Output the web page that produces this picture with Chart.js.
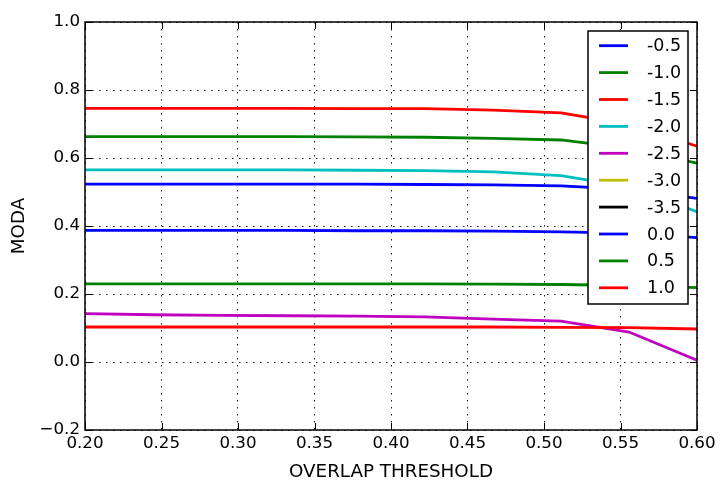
<!DOCTYPE html>
<html>
<head>
<meta charset="utf-8">
<script src="https://cdn.jsdelivr.net/npm/chart.js@4.4.1/dist/chart.umd.min.js"></script>
<style>
  html, body { margin: 0; padding: 0; background: #fff; }
</style>
</head>
<body>
<canvas id="chart" width="722" height="481"></canvas>
<script>
// overlap thresholds (x)
const thresholds = [0.2, 0.2444, 0.2889, 0.3333, 0.3778, 0.4222, 0.4667, 0.5111, 0.5556, 0.6];

const seriesLabels = ['-0.5', '-1.0', '-1.5', '-2.0', '-2.5', '-3.0', '-3.5', '0.0', '0.5', '1.0'];
const seriesColors = ['#0000ff', '#008000', '#ff0000', '#00bfbf', '#bf00bf', '#bfbf00', '#000000', '#0000ff', '#008000', '#ff0000'];

// MODA values
const modaM05 = [0.523, 0.523, 0.523, 0.523, 0.523, 0.522, 0.521, 0.518, 0.508, 0.481];
const modaM10 = [0.663, 0.663, 0.663, 0.663, 0.662, 0.661, 0.658, 0.653, 0.628, 0.585];
const modaM15 = [0.746, 0.746, 0.746, 0.746, 0.745, 0.745, 0.741, 0.733, 0.699, 0.635];
const modaM20 = [0.565, 0.565, 0.565, 0.565, 0.564, 0.563, 0.559, 0.548, 0.515, 0.442];
const modaM25 = [0.142, 0.139, 0.137, 0.136, 0.135, 0.133, 0.126, 0.120, 0.088, 0.005];
// these two are not visible in the plot (below the axis range)
const modaM30 = [-0.35, -0.35, -0.35, -0.35, -0.36, -0.36, -0.37, -0.38, -0.40, -0.45];
const modaM35 = [-0.45, -0.45, -0.45, -0.45, -0.46, -0.46, -0.47, -0.48, -0.50, -0.55];
const modaP00 = [0.387, 0.387, 0.387, 0.387, 0.386, 0.386, 0.385, 0.383, 0.379, 0.366];
const modaP05 = [0.230, 0.230, 0.230, 0.230, 0.230, 0.230, 0.229, 0.228, 0.225, 0.219];
const modaP10 = [0.103, 0.103, 0.103, 0.103, 0.103, 0.103, 0.103, 0.102, 0.101, 0.097];

const allSeries = [modaM05, modaM10, modaM15, modaM20, modaM25, modaM30, modaM35, modaP00, modaP05, modaP10];

const FONT = 'DejaVu Sans';
const FS = 16.7;

const datasets = allSeries.map((vals, i) => ({
    label: seriesLabels[i],
    data: vals.map((v, j) => ({ x: thresholds[j], y: v })),
    borderColor: seriesColors[i],
    backgroundColor: seriesColors[i],
    borderWidth: 2.8,
    pointRadius: 0,
    tension: 0,
    fill: false,
    order: -i   // later series drawn on top, like matplotlib
}));

// frame, inward ticks on all sides, and the legend box
const framePlugin = {
    id: 'frame',
    afterDraw(chart) {
        const { ctx, chartArea: a, scales } = chart;
        ctx.save();
        ctx.strokeStyle = '#000';
        ctx.lineWidth = 1;
        const tl = 7;
        scales.x.ticks.forEach(t => {
            const px = Math.round(scales.x.getPixelForValue(t.value)) + 0.5;
            ctx.beginPath();
            ctx.moveTo(px, a.bottom); ctx.lineTo(px, a.bottom - tl);
            ctx.moveTo(px, a.top); ctx.lineTo(px, a.top + tl);
            ctx.stroke();
        });
        scales.y.ticks.forEach(t => {
            const py = Math.round(scales.y.getPixelForValue(t.value)) + 0.5;
            ctx.beginPath();
            ctx.moveTo(a.left, py); ctx.lineTo(a.left + tl, py);
            ctx.moveTo(a.right, py); ctx.lineTo(a.right - tl, py);
            ctx.stroke();
        });
        ctx.lineWidth = 1.5;
        ctx.strokeRect(a.left, a.top, a.right - a.left, a.bottom - a.top);

        // legend
        const lx = 588, ly = 31, lw = 100, lh = 273;
        ctx.fillStyle = '#fff';
        ctx.fillRect(lx, ly, lw, lh);
        ctx.lineWidth = 1.5;
        ctx.strokeRect(lx, ly, lw, lh);
        ctx.font = '17.5px "' + FONT + '"';
        ctx.textBaseline = 'middle';
        ctx.textAlign = 'left';
        chart.data.datasets.forEach((ds, i) => {
            const y = 45.7 + i * 26.9;
            ctx.strokeStyle = ds.borderColor;
            ctx.lineWidth = 2.8;
            ctx.beginPath();
            ctx.moveTo(599, y); ctx.lineTo(628, y);
            ctx.stroke();
            ctx.fillStyle = '#000';
            ctx.fillText(ds.label, 647, y + 1);
        });
        ctx.restore();
    }
};

const gridOpts = {
    color: '#000',
    lineWidth: 0.9,
    drawTicks: false
};

new Chart(document.getElementById('chart'), {
    type: 'line',
    data: { datasets },
    plugins: [framePlugin],
    options: {
        responsive: false,
        animation: false,
        devicePixelRatio: 1,
        layout: { padding: { top: 22, right: 25, left: 0, bottom: 0 } },
        plugins: {
            legend: { display: false },
            tooltip: { enabled: false }
        },
        scales: {
            x: {
                type: 'linear',
                min: 0.2,
                max: 0.6,
                grid: gridOpts,
                border: { display: false, dash: [1.5, 5.5] },
                ticks: {
                    stepSize: 0.05,
                    autoSkip: false,
                    maxRotation: 0,
                    padding: 4,
                    color: '#000',
                    font: { family: FONT, size: FS },
                    callback: v => v.toFixed(2)
                },
                title: {
                    display: true,
                    text: 'OVERLAP THRESHOLD',
                    color: '#000',
                    font: { family: FONT, size: 18.3 },
                    padding: { top: 0, bottom: -2 }
                },
                afterFit: s => { s.height = 51; }
            },
            y: {
                min: -0.2,
                max: 1.0,
                grid: gridOpts,
                border: { display: false, dash: [1.5, 5.5] },
                ticks: {
                    stepSize: 0.2,
                    autoSkip: false,
                    padding: 5,
                    color: '#000',
                    font: { family: FONT, size: FS },
                    callback: v => (Math.abs(v) < 1e-9 ? 0 : v).toFixed(1).replace('-', '\u2212')
                },
                title: {
                    display: true,
                    text: 'MODA',
                    color: '#000',
                    font: { family: FONT, size: 18.3 },
                    padding: { top: 8, bottom: 0 }
                },
                afterFit: s => { s.width = 85; }
            }
        }
    }
});
</script>
</body>
</html>
